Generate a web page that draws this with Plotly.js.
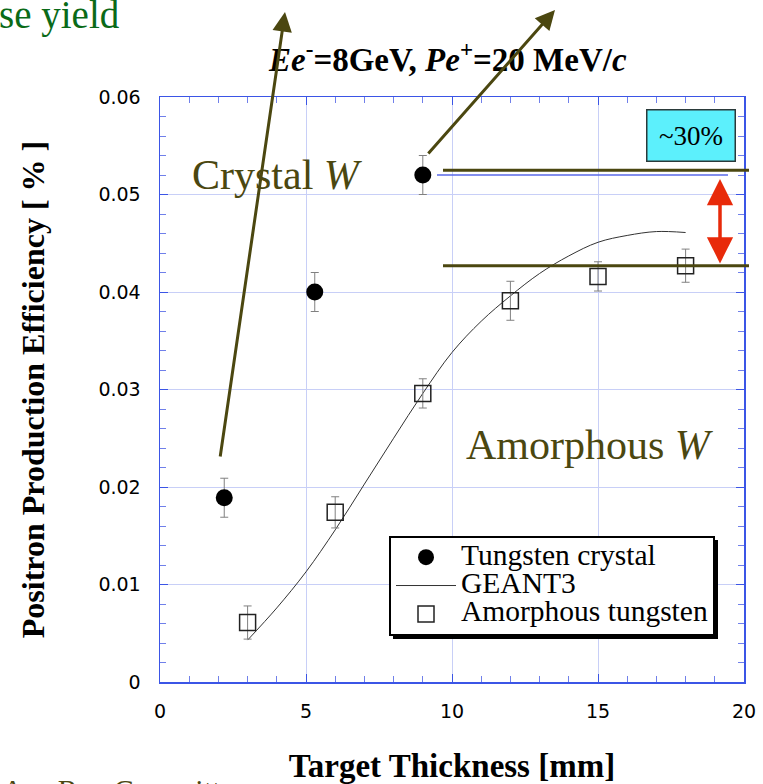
<!DOCTYPE html>
<html>
<head>
<meta charset="utf-8">
<script src="https://cdn.plot.ly/plotly-3.0.1.min.js"></script>
<style>html,body{margin:0;padding:0;background:#fff;}#chart{width:763px;height:784px;}</style>
</head>
<body>
<div id="chart"></div>
<script>
// ---- data ----
var crystalX = [2.2, 5.3, 9.0];
var crystalY = [0.0189, 0.0400, 0.0520];
var crystalErr = [0.0020, 0.0020, 0.0020];

var amorphX = [3, 6, 9, 12, 15, 18];
var amorphY = [0.0061, 0.0174, 0.0296, 0.0391, 0.0416, 0.0427];
var amorphErr = [0.0017, 0.0016, 0.0015, 0.0020, 0.0015, 0.0017];

var geantX = [3, 4, 5, 6, 7, 8, 9, 10, 11, 12, 13, 14, 15, 16, 17, 18];
var geantY = [0.0043, 0.0076, 0.0113, 0.0156, 0.0203, 0.0250, 0.0296, 0.0338, 0.0370, 0.0396, 0.0419, 0.0437, 0.0451, 0.0458, 0.0462, 0.0461];

var seriesNames = ['Tungsten crystal', 'GEANT3', 'Amorphous tungsten'];
var crystalLevel = 0.0525;   // olive reference line (crystal)
var amorphLevel = 0.0427;    // olive reference line (amorphous)
var crystalPoint = 0.0520;   // thin blue line

var serif = 'Liberation Serif, Times New Roman, serif';
var olive = '#4b4710';
var axisBlue = '#3b55e6';
var gridBlue = '#c8cff7';

function legName(s) { return '<span style="font-size:29.5px">' + s + '</span>'; }

var traces = [
  {
    x: crystalX, y: crystalY, type: 'scatter', mode: 'markers', name: legName(seriesNames[0]),
    marker: {symbol: 'circle', size: 17, color: '#000'},
    error_y: {type: 'data', array: crystalErr, visible: true, color: '#808080', thickness: 1, width: 4}
  },
  {
    x: geantX, y: geantY, type: 'scatter', mode: 'lines', name: legName(seriesNames[1]),
    line: {color: '#333', width: 1, shape: 'spline', smoothing: 1}
  },
  {
    x: amorphX, y: amorphY, type: 'scatter', mode: 'markers', name: legName(seriesNames[2]),
    marker: {symbol: 'square-open', size: 16, color: '#222', line: {width: 1.5, color: '#222'}},
    error_y: {type: 'data', array: amorphErr, visible: true, color: '#808080', thickness: 1, width: 4}
  }
];

function px(x) { return (x - 160) / 584; }
function py(y) { return (682 - y) / 585; }

var layout = {
  width: 763, height: 784,
  margin: {l: 160, r: 19, t: 97, b: 102, pad: 0},
  paper_bgcolor: '#fff', plot_bgcolor: '#fff',
  showlegend: true,
  legend: {
    x: px(389), y: py(536), xanchor: 'left', yanchor: 'top',
    bgcolor: '#fff', bordercolor: '#000', borderwidth: 2,
    font: {family: serif, size: 19.5, color: '#000'},
    itemwidth: 60
  },
  xaxis: {
    range: [0, 20], dtick: 5, tick0: 0,
    showline: true, linecolor: axisBlue, linewidth: 1.5, mirror: 'ticks',
    showgrid: true, gridcolor: gridBlue, gridwidth: 1, zeroline: false,
    ticks: 'inside', ticklen: 8, tickcolor: axisBlue, tickwidth: 1,
    minor: {dtick: 1, ticks: 'inside', ticklen: 6, tickcolor: '#7080ea', showgrid: false},
    tickfont: {family: 'DejaVu Sans, Verdana, sans-serif', size: 19, color: '#000'},
    ticklabelstandoff: 12,
    title: {text: '<b>Target Thickness [mm]</b>', font: {family: serif, size: 33, color: '#000'}, standoff: 33}
  },
  yaxis: {
    range: [0, 0.06], dtick: 0.01, tick0: 0,
    showline: true, linecolor: axisBlue, linewidth: 1.5, mirror: 'ticks',
    showgrid: true, gridcolor: gridBlue, gridwidth: 1, zeroline: false,
    ticks: 'inside', ticklen: 8, tickcolor: axisBlue, tickwidth: 1,
    minor: {dtick: 0.002, ticks: 'inside', ticklen: 6, tickcolor: '#7080ea', showgrid: false},
    tickfont: {family: 'DejaVu Sans, Verdana, sans-serif', size: 19, color: '#000'},
    ticklabelstandoff: 14,
    title: {text: '<b>Positron Production Efficiency [ % ]</b>', font: {family: serif, size: 32, color: '#000'}, standoff: 44}
  },
  shapes: [
    // legend drop shadow
    {type: 'rect', xref: 'paper', yref: 'paper', x0: px(393), x1: px(718), y0: py(639), y1: py(540),
     fillcolor: '#000', line: {width: 0}, layer: 'above'},
    // olive reference lines
    {type: 'line', xref: 'paper', yref: 'y', x0: px(443), x1: px(749), y0: crystalLevel, y1: crystalLevel,
     line: {color: olive, width: 3}, layer: 'above'},
    {type: 'line', xref: 'paper', yref: 'y', x0: px(443), x1: px(749), y0: amorphLevel, y1: amorphLevel,
     line: {color: olive, width: 3}, layer: 'above'},
    // thin blue line at crystal point
    {type: 'line', xref: 'paper', yref: 'y', x0: px(437), x1: px(728), y0: crystalPoint, y1: crystalPoint,
     line: {color: '#5a6ae8', width: 1.5}, layer: 'above'}
  ],
  annotations: [
    {xref: 'paper', yref: 'paper', x: px(447), y: py(57), xanchor: 'center', yanchor: 'middle', showarrow: false,
     text: '<b><i>Ee</i><sup>-</sup>=8GeV, <i>Pe</i><sup>+</sup>=20 MeV/<i>c</i></b>',
     font: {family: serif, size: 33, color: '#000'}},
    {xref: 'paper', yref: 'paper', x: px(190), y: py(175), xanchor: 'left', yanchor: 'middle', showarrow: false,
     text: 'Crystal <i>W</i>', font: {family: serif, size: 42, color: olive}},
    {xref: 'paper', yref: 'paper', x: px(464), y: py(445), xanchor: 'left', yanchor: 'middle', showarrow: false,
     text: 'Amorphous <i>W</i>', font: {family: serif, size: 42, color: olive}},
    {xref: 'paper', yref: 'paper', x: px(691), y: py(135.5), xanchor: 'center', yanchor: 'middle', showarrow: false,
     text: '~30%', font: {family: serif, size: 27, color: '#000'},
     bgcolor: '#5cf0fc', bordercolor: '#2a3a3a', borderwidth: 1.5, borderpad: 0, width: 87, height: 50},
    // olive arrows
    {xref: 'paper', yref: 'paper', x: px(285), y: py(12), ax: -65, ay: 446, text: '', showarrow: true,
     arrowhead: 2, arrowsize: 1.3, arrowwidth: 3, arrowcolor: olive, standoff: 0},
    {xref: 'paper', yref: 'paper', x: px(555), y: py(10), ax: -128, ay: 145, text: '', showarrow: true,
     arrowhead: 2, arrowsize: 1.3, arrowwidth: 3, arrowcolor: olive, standoff: 0},
    // red double arrow
    {xref: 'paper', yref: 'y', x: px(720), y: crystalLevel - 0.0009, ax: 0, ay: 86, text: '', showarrow: true,
     arrowside: 'end+start', arrowhead: 2, startarrowhead: 2, arrowsize: 1.5, startarrowsize: 1.5,
     arrowwidth: 3.5, arrowcolor: '#e82a0a', standoff: 0, startstandoff: 0},
    // slide fragments
    {xref: 'paper', yref: 'paper', x: px(122), y: py(15), xanchor: 'right', yanchor: 'middle', showarrow: false,
     text: 'se yield', font: {family: serif, size: 39, color: '#0a6a18'}},
    {xref: 'paper', yref: 'paper', x: px(0), y: py(771), xanchor: 'left', yanchor: 'top', showarrow: false,
     text: 'Asn Rep Committee', font: {family: serif, size: 30, color: olive}}
  ]
};

Plotly.newPlot('chart', traces, layout, {displayModeBar: false, staticPlot: true});
</script>
</body>
</html>
